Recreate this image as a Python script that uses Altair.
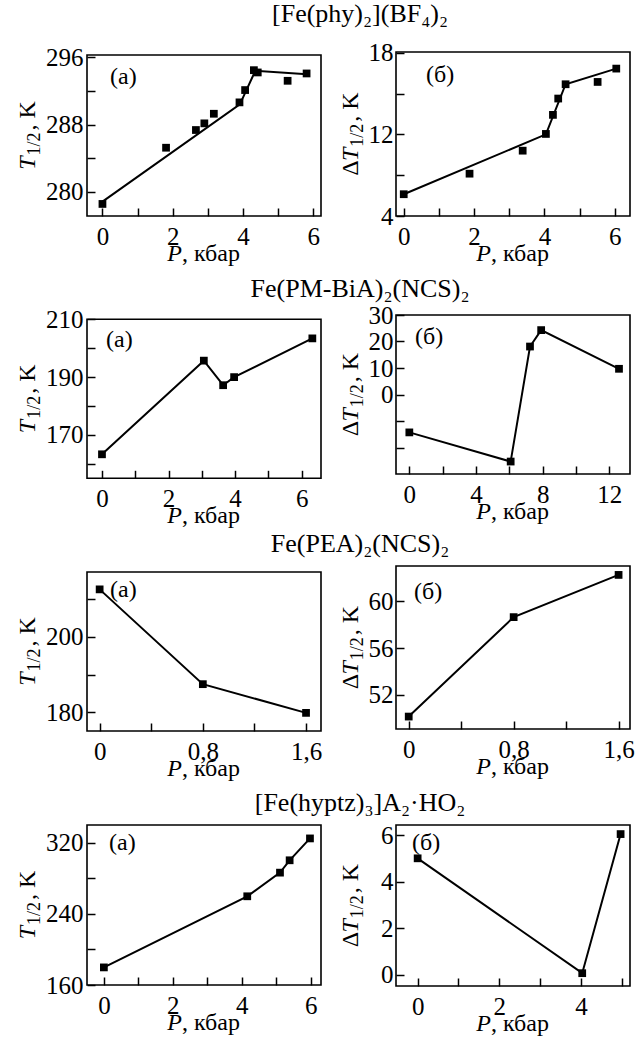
import altair as alt
import pandas as pd

FONT = "Liberation Serif"

# ---------------- data ----------------
# Row 1: [Fe(phy)2](BF4)2
r1a_P = [0.0, 1.81, 2.66, 2.90, 3.17, 3.90, 4.06, 4.31, 4.42, 5.27, 5.81]
r1a_T = [278.58, 285.25, 287.35, 288.14, 289.28, 290.63, 292.09, 294.45, 294.18, 293.19, 294.06]
r1a_fitP = [0.0, 3.91, 4.35, 5.82]
r1a_fitT = [278.85, 290.39, 294.37, 293.98]

r1b_P = [0.0, 1.87, 3.38, 4.04, 4.24, 4.39, 4.60, 5.51, 6.04]
r1b_dT = [7.6, 9.11, 10.8, 12.03, 13.43, 14.63, 15.68, 15.85, 16.83]
r1b_fitP = [0.0, 4.04, 4.60, 6.04]
r1b_fitdT = [7.6, 12.0, 15.68, 16.83]

# Row 2: Fe(PM-BiA)2(NCS)2
r2a_P = [0.0, 3.06, 3.64, 3.97, 6.32]
r2a_T = [163.3, 195.7, 187.2, 190.0, 203.4]
r2b_P = [0.0, 6.08, 7.24, 7.91, 12.58]
r2b_dT = [-14.3, -25.3, 18.1, 24.3, 9.7]

# Row 3: Fe(PEA)2(NCS)2
r3a_P = [0.0, 0.8, 1.6]
r3a_T = [212.6, 187.5, 179.9]
r3b_P = [0.0, 0.8, 1.6]
r3b_dT = [50.16, 58.64, 62.24]

# Row 4: [Fe(hyptz)3]A2·HO2
r4a_P = [0.0, 4.16, 5.11, 5.39, 5.98]
r4a_T = [179.8, 259.8, 286.4, 300.3, 324.9]
r4b_P = [0.0, 4.03, 4.97]
r4b_dT = [5.0, 0.07, 6.04]

row_titles = ["[Fe(phy)₂](BF₄)₂", "Fe(PM-BiA)₂(NCS)₂", "Fe(PEA)₂(NCS)₂", "[Fe(hyptz)₃]A₂·HO₂"]

# ---------------- layout helpers ----------------
PAGE_W = 644
W = 234            # plot width of every panel
LEFT_X = 87        # page x of left plot frame
RIGHT_X = 396      # page x of right plot frame
SPLIT = 323        # page x where the left column ends and the right one starts
LABEL_FS = 25
TITLE_FS = 24
SUB_FS = 18
ROW_TITLE_FS = 26


def lab_expr(d):
    parts = [f"abs(datum.value - ({v})) < 1e-6 ? '{s}'" for v, s in d.items()]
    return " : ".join(parts) + " : ''"


def axis(vals, labs, orient, pad):
    return alt.Axis(values=vals, labelExpr=lab_expr(labs), orient=orient, title=None,
                    domain=False, grid=False, ticks=True, tickSize=8, offset=-8,
                    tickColor="black", tickWidth=1.5, labelFont=FONT, labelFontSize=LABEL_FS,
                    labelColor="black", labelPadding=pad, labelOverlap=False,
                    labelFlush=False, labelBound=False)


def one():
    return pd.DataFrame({"s": [0]})


def txt(s, x, y, size, style="normal", angle=0, align="left", dx=0, dy=0,
        baseline="alphabetic"):
    kw = dict(font=FONT, fontSize=size, fontStyle=style, align=align, dx=dx, dy=dy,
              baseline=baseline, color="black")
    if angle:
        kw["angle"] = angle
    return alt.Chart(pd.DataFrame({"s": [s]})).mark_text(**kw).encode(
        x=alt.value(x), y=alt.value(y), text="s:N")


def spacer(x1, y1, x2, y2):
    # invisible rule: fixes the layout bounds of a view
    return alt.Chart(one()).mark_rule(strokeOpacity=0, strokeWidth=1).encode(
        x=alt.value(x1), y=alt.value(y1), x2=alt.value(x2), y2=alt.value(y2))


def frame(t, b):
    return alt.Chart(one()).mark_rect(filled=False, color="black", strokeWidth=1.6).encode(
        x=alt.value(0), x2=alt.value(W), y=alt.value(t), y2=alt.value(b))


def ytitle(xb, yc, delta):
    wT = 0.556 * TITLE_FS
    wD = 0.612 * TITLE_FS
    wS = 1.278 * SUB_FS + 3
    wK = 1.222 * TITLE_FS
    total = wT + wS + wK + (wD if delta else 0)
    d0 = -total / 2
    layers = []
    if delta:
        layers.append(txt("Δ", xb, yc, TITLE_FS, angle=270, dx=d0))
        d0 += wD
    layers.append(txt("T", xb, yc, TITLE_FS, style="italic", angle=270, dx=d0))
    layers.append(txt("1/2", xb, yc, SUB_FS, angle=270, dx=d0 + wT + 1, dy=5))
    layers.append(txt(", K", xb, yc, TITLE_FS, angle=270, dx=d0 + wT + wS))
    return layers


def xtitle(vb):
    wP = 0.611 * TITLE_FS
    wR = 2.445 * TITLE_FS
    d0 = -(wP + wR) / 2
    return [txt("P", W / 2, vb + 45, TITLE_FS, style="italic", dx=d0),
            txt(", кбар", W / 2, vb + 45, TITLE_FS, dx=d0 + wP)]


def panel(P, V, fitP, fitV, xdom, ydom, xvals, xlabs, yvals, ylabs, h,
          letter, lx, ly, right, band_top, band_bottom, row_top, plot_top):
    t = plot_top - row_top          # plot top inside the view
    vb = t + h                      # plot bottom = view height
    pts = pd.DataFrame({"P": P, "V": V})
    line_df = pts if fitP is None else pd.DataFrame({"P": fitP, "V": fitV})
    x = alt.X("P:Q", scale=alt.Scale(domain=xdom, nice=False, zero=False),
              axis=axis(xvals, xlabs, "bottom", 8))
    y = alt.Y("V:Q", scale=alt.Scale(domain=ydom, range=[vb, t], nice=False, zero=False),
              axis=axis(yvals, ylabs, "left", 3 if right else 4))
    line = alt.Chart(line_df).mark_line(color="black", strokeWidth=2).encode(x=x, y=y)
    dots = alt.Chart(pts).mark_point(shape="square", filled=True, size=60,
                                     color="black", opacity=1).encode(x=x, y=y)
    lab = txt(letter, lx, t + ly, 24, baseline="middle")
    yt = ytitle(-38 if right else -52, t + h / 2, right)
    if right:
        sx1, sx2 = SPLIT - RIGHT_X, PAGE_W - RIGHT_X
    else:
        sx1, sx2 = -LEFT_X, SPLIT - LEFT_X
    sp = spacer(sx1, band_top - row_top, sx2, band_bottom - row_top)
    return alt.layer(frame(t, vb), line, dots, lab, *yt, *xtitle(vb), sp).properties(
        width=W, height=vb)


def title_band(text, top, bottom, baseline):
    hgt = bottom - top
    tx = txt(text, 360 - LEFT_X, baseline - top, ROW_TITLE_FS, align="center")
    return alt.layer(tx, spacer(-LEFT_X, 0, PAGE_W - LEFT_X, hgt)).properties(
        width=W, height=hgt)


def row(a, b):
    return alt.hconcat(a, b, spacing=0)


XT6 = [0, 1, 2, 3, 4, 5, 6]
XL6 = {0: "0", 2: "2", 4: "4", 6: "6"}
XT16 = [0, 0.4, 0.8, 1.2, 1.6]
XL16 = {0: "0", 0.8: "0,8", 1.6: "1,6"}

t1 = title_band(row_titles[0], 0, 36, 22)
r1 = row(
    panel(r1a_P, r1a_T, r1a_fitP, r1a_fitT, [-0.44, 6.22], [277.15, 296.25],
          XT6, XL6, [280, 284, 288, 292, 296], {280: "280", 288: "288", 296: "296"},
          161, "(а)", 23, 22, False, 36, 272, 52, 55),
    panel(r1b_P, r1b_dT, r1b_fitP, r1b_fitdT, [-0.22, 6.43], [6, 18.05],
          XT6, XL6, [6, 9, 12, 15, 18], {6: "4", 12: "12", 18: "18"},
          164, "(б)", 30, 23, True, 36, 272, 52, 52))

t2 = title_band(row_titles[1], 272, 302, 297)
r2 = row(
    panel(r2a_P, r2a_T, None, None, [-0.45, 6.58], [155.0, 210.0],
          XT6, XL6, [160, 170, 180, 190, 200, 210], {170: "170", 190: "190", 210: "210"},
          159, "(а)", 19, 21, False, 302, 530, 315, 319.3),
    panel(r2b_P, r2b_dT, None, None, [-0.8, 13.24], [-30, 30],
          [0, 2, 4, 6, 8, 10, 12], {0: "0", 4: "4", 8: "8", 12: "12"},
          [-20, -10, 0, 10, 20, 30], {0: "0", 10: "10", 20: "20", 30: "30"},
          159, "(б)", 19, 22, True, 302, 530, 315, 315))

t3 = title_band(row_titles[2], 530, 558, 552)
r3 = row(
    panel(r3a_P, r3a_T, None, None, [-0.098, 1.716], [175.1, 217.2],
          XT16, XL16, [180, 190, 200, 210], {180: "180", 200: "200"},
          159, "(а)", 23, 18, False, 558, 786, 565.7, 571.7),
    panel(r3b_P, r3b_dT, None, None, [-0.097, 1.687], [49.1, 63.0],
          XT16, XL16, [52, 56, 60], {52: "52", 56: "56", 60: "60"},
          163, "(б)", 18, 26, True, 558, 786, 565.7, 565.7))

t4 = title_band(row_titles[3], 786, 815, 810)
r4 = row(
    panel(r4a_P, r4a_T, None, None, [-0.49, 6.3], [160, 340],
          XT6, XL6, [160, 200, 240, 280, 320], {160: "160", 240: "240", 320: "320"},
          160, "(а)", 22, 18, False, 815, 1040, 823.3, 823.3),
    panel(r4b_P, r4b_dT, None, None, [-0.53, 5.2], [-0.48, 6.43],
          [0, 1, 2, 3, 4, 5], {0: "0", 2: "2", 4: "4"},
          [0, 2, 4, 6], {0: "0", 2: "2", 4: "4", 6: "6"},
          161, "(б)", 16, 18, True, 815, 1040, 823.3, 823.3))

chart = alt.vconcat(t1, r1, t2, r2, t3, r3, t4, r4, spacing=0).properties(
    padding={"left": 0, "top": 0, "right": 0, "bottom": 0},
    background="white",
).configure_view(strokeWidth=0)

chart.save("out.html", embed_options={"renderer": "svg", "actions": False})
